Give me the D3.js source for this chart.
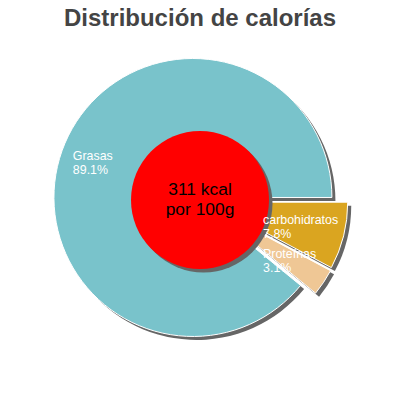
<!DOCTYPE html>
<html>
<head>
<meta charset="utf-8">
<script src="https://cdn.jsdelivr.net/npm/d3@7"></script>
<style>
html,body{margin:0;padding:0;background:#fff;}
svg{display:block;}
</style>
</head>
<body>
<svg id="chart" width="400" height="400"></svg>
<script>
// ---- data ----
const title = "Distribución de calorías";
const categories = ["carbohidratos", "Proteínas", "Grasas"];
const values = [7.8, 3.1, 89.1];
const percentLabels = ["7.8%", "3.1%", "89.1%"];
const colors = ["#daa520", "#efc795", "#79c3cb"];
const centerLines = ["311 kcal", "por 100g"];

// ---- layout ----
const W = 400, H = 400;
const cx = 200, cy = 200, R = 139, holeR = 69;
const explode = [9, 9.5, 7.5];
const labelRadius = [65, 80, 135];
const labelNudgeX = [0, -3.5, 0];
const labelNudgeY = [-1, 4, -4];
const shadowDx = 3.5, shadowDy = 3.5, shadowColor = "#666666";
const labelFont = 12.4, labelLine = 14.2;
const centerFont = 17.4, centerLine = 20.2;

const svg = d3.select("#chart");

svg.append("text")
  .attr("x", W / 2).attr("y", 26)
  .attr("text-anchor", "middle")
  .attr("font-family", "Liberation Sans, Arial, sans-serif")
  .attr("font-weight", "bold")
  .attr("font-size", 24)
  .attr("fill", "#444444")
  .text(title);

const data = categories.map((c, i) => ({ name: c, value: values[i], pct: percentLabels[i], color: colors[i], i }));

const pie = d3.pie().sort(null).value(d => d.value)
  .startAngle(Math.PI / 2).endAngle(Math.PI / 2 + 2 * Math.PI);
const arcs = pie(data);
const arc = d3.arc().innerRadius(0).outerRadius(R);

function offset(a, i) {
  const m = (a.startAngle + a.endAngle) / 2;
  return [explode[i] * Math.sin(m), -explode[i] * Math.cos(m)];
}

const g = svg.append("g").attr("transform", `translate(${cx},${cy})`);

// shadows
g.selectAll("path.shadow").data(arcs).join("path")
  .attr("class", "shadow")
  .attr("d", arc)
  .attr("fill", shadowColor)
  .attr("transform", (a, i) => { const o = offset(a, i); return `translate(${o[0] + shadowDx},${o[1] + shadowDy})`; });

// slices
g.selectAll("path.slice").data(arcs).join("path")
  .attr("class", "slice")
  .attr("d", arc)
  .attr("fill", a => a.data.color)
  .attr("stroke", "#ffffff")
  .attr("stroke-width", 1)
  .attr("transform", (a, i) => { const o = offset(a, i); return `translate(${o[0]},${o[1]})`; });

// hole
g.append("circle").attr("cx", shadowDx).attr("cy", shadowDy).attr("r", holeR).attr("fill", shadowColor);
g.append("circle").attr("r", holeR).attr("fill", "#ff0000");

// center text
const ct = g.append("text")
  .attr("text-anchor", "middle")
  .attr("font-family", "Liberation Sans, Arial, sans-serif")
  .attr("font-size", centerFont)
  .attr("fill", "#000");
centerLines.forEach((t, k) => {
  ct.append("tspan").attr("x", 0).attr("y", -5 + k * centerLine).text(t);
});

// labels
arcs.forEach((a, i) => {
  const m = (a.startAngle + a.endAngle) / 2;
  const x = labelRadius[i] * Math.sin(m) + labelNudgeX[i];
  const y = -labelRadius[i] * Math.cos(m) + labelNudgeY[i];
  const t = g.append("text")
    .attr("font-family", "Liberation Sans, Arial, sans-serif")
    .attr("font-size", labelFont)
    .attr("fill", "#ffffff");
  t.append("tspan").attr("x", x).attr("y", y + 9.3).text(a.data.name);
  t.append("tspan").attr("x", x).attr("y", y + 9.3 + labelLine).text(a.data.pct);
});
</script>
</body>
</html>
